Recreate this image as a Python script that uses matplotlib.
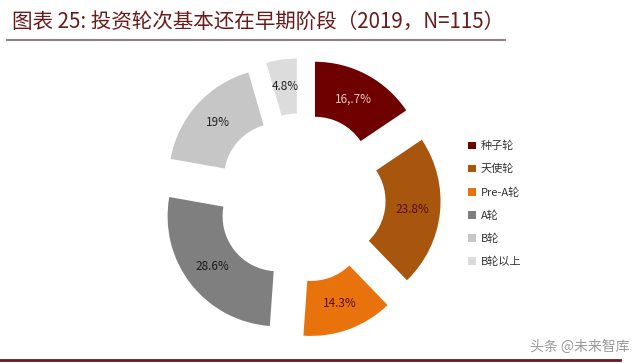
import numpy as np
import matplotlib
matplotlib.use("Agg")
from matplotlib import pyplot as plt

plt.rcParams['font.family'] = ['Noto Sans CJK SC', 'DejaVu Sans']

# 数据
labels = ["种子轮", "天使轮", "Pre-A轮", "A轮", "B轮", "B轮以上"]
values = [16.7, 23.8, 14.3, 28.6, 19, 4.8]
pct_text = ["16,.7%", "23.8%", "14.3%", "28.6%", "19%", "4.8%"]
colors = ["#6E0000", "#A8560D", "#E8720C", "#7F7F7F", "#C6C6C6", "#DCDCDC"]
txt_colors = ["#F2C4C0", "#5A0A0A", "#5A0A0A", "#1A1A1A", "#222222", "#222222"]

fig = plt.figure(figsize=(6.4, 3.63), dpi=100)

# 标题
fig.text(12 / 640, 1 - 28 / 363, "图表 25: 投资轮次基本还在早期阶段（2019，N=115）",
         fontsize=14.8, color="#6B1A1A", style="italic", va="baseline", ha="left")
fig.add_artist(plt.Line2D([7 / 640, 505 / 640], [1 - 40 / 363, 1 - 40 / 363],
                          color="#8C8080", lw=1.5))
# 底部线
fig.add_artist(plt.Line2D([0, 620 / 640], [1 - 360 / 363, 1 - 360 / 363],
                          color="#6B1A1A", lw=2))

# 环形图
ex = 0.27
ax = fig.add_axes([147 / 640, 11 / 363, 308 / 640, 308 / 363])
wedges, _ = ax.pie(values, colors=colors, startangle=90, counterclock=False,
                   explode=[ex] * len(values), radius=1.0,
                   wedgeprops=dict(width=0.5, edgecolor="none"))
ax.set_xlim(-1.4, 1.4)
ax.set_ylim(-1.4, 1.4)
ax.set_aspect("equal")
ax.axis("off")

for w, t, c in zip(wedges, pct_text, txt_colors):
    ang = np.deg2rad((w.theta1 + w.theta2) / 2)
    cx, cy = w.center
    r = 0.75
    ax.text(cx + r * np.cos(ang), cy + r * np.sin(ang), t, ha="center", va="center",
            fontsize=8.5, color=c)

# 图例
leg = fig.legend(wedges, labels, loc="upper left",
                 bbox_to_anchor=(458 / 640, 1 - 131 / 363),
                 frameon=False, fontsize=8, handlelength=0.7, handleheight=0.7,
                 labelspacing=1.15, handletextpad=0.45, labelcolor="#333333")

# 水印
fig.text(630 / 640, 1 - 347 / 363, "头条 @未来智库", fontsize=10, color="#9A9A9A",
         ha="right", va="center")

fig.savefig("out.png", dpi=100)
